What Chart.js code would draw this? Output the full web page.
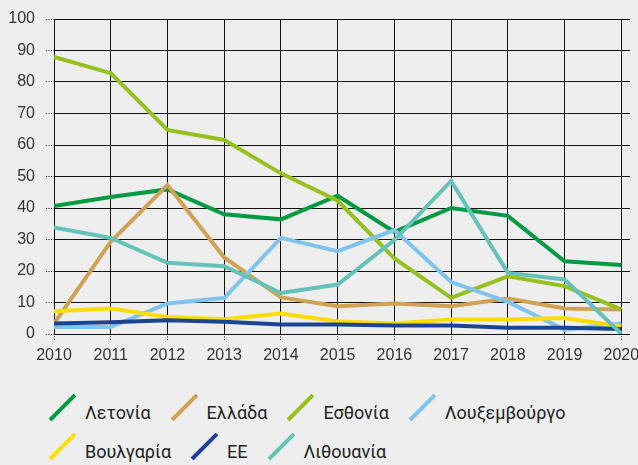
<!DOCTYPE html>
<html>
<head>
<meta charset="utf-8">
<script src="https://cdn.jsdelivr.net/npm/chart.js@4/dist/chart.umd.min.js"></script>
<style>
  html, body { margin: 0; padding: 0; background: #eeeeee; }
  #wrap { position: relative; width: 638px; height: 465px; }
  #box { position: absolute; left: 0; top: 0; width: 638px; height: 370px; }
  #legend { position: absolute; left: 47px; top: 394px; width: 590px;
            font-family: Roboto, "Liberation Sans", sans-serif; font-size: 18px; color: #222; }
  .row { display: flex; height: 39px; align-items: flex-start; }
  .item { display: flex; align-items: flex-end; margin-right: 18px; }
  .item svg { margin-right: 9px; display: block; }
  .item span { line-height: 18px; }
</style>
</head>
<body>
<div id="wrap">
  <div id="box"><canvas id="linechart"></canvas></div>
  <div id="legend"></div>
</div>
<script>
var years = [2010, 2011, 2012, 2013, 2014, 2015, 2016, 2017, 2018, 2019, 2020];
var yTicks = [0, 10, 20, 30, 40, 50, 60, 70, 80, 90, 100];

var seriesNames = ['Λετονία', 'Ελλάδα', 'Εσθονία', 'Λουξεμβούργο', 'Βουλγαρία', 'ΕΕ', 'Λιθουανία'];
var seriesColors = ['#009a44', '#cfa255', '#95c11f', '#7fc4ec', '#ffdd00', '#1c4494', '#66c2b9'];

var latvia     = [40.6, 43.5, 45.9, 38.0, 36.4, 43.9, 32.4, 40.0, 37.5, 23.1, 21.9];
var greece     = [3.3, 29.3, 47.3, 24.3, 11.6, 8.8, 9.7, 8.8, 11.3, 8.1, 7.8];
var estonia    = [88.0, 82.8, 64.8, 61.6, 51.0, 42.3, 24.0, 11.5, 18.3, 15.2, 7.8];
var luxembourg = [2.2, 2.2, 9.7, 11.4, 30.5, 26.3, 33.0, 16.5, 10.2, 1.4, 3.3];
var bulgaria   = [7.2, 8.1, 5.4, 4.7, 6.5, 4.0, 3.3, 4.6, 4.6, 5.1, 2.4];
var eu         = [3.3, 3.7, 4.4, 3.9, 3.0, 3.0, 2.7, 2.7, 2.0, 2.0, 1.6];
var lithuania  = [33.8, 30.5, 22.6, 21.5, 13.0, 15.7, 29.8, 48.6, 19.4, 17.3, 0.1];

var seriesValues = [latvia, greece, estonia, luxembourg, bulgaria, eu, lithuania];

function initLineChart() {
    var ctx = document.getElementById('linechart').getContext('2d');

    var datasets = seriesValues.map(function (vals, i) {
        return {
            label: seriesNames[i],
            data: vals.map(function (v, j) { return { x: years[j], y: v }; }),
            borderColor: seriesColors[i],
            backgroundColor: seriesColors[i],
            borderWidth: 4,
            pointRadius: 0,
            tension: 0,
            order: seriesValues.length - i   // later series drawn on top
        };
    });

    var gridStyle = {
        color: '#111',
        lineWidth: 1,
        borderDash: [1, 1.5],
        tickBorderDash: [1, 1.5]
    };

    new Chart(ctx, {
        type: 'line',
        data: { datasets: datasets },
        options: {
            responsive: true,
            maintainAspectRatio: false,
            animation: false,
            layout: { padding: { top: 19, right: 8, left: 0, bottom: 0 } },
            plugins: { legend: { display: false }, tooltip: { enabled: false } },
            scales: {
                x: {
                    type: 'linear',
                    min: years[0],
                    max: 2020.153,
                    border: { display: false },
                    grid: Object.assign({ tickLength: 6 }, gridStyle),
                    ticks: {
                        stepSize: 1,
                        includeBounds: false,
                        padding: 6,
                        maxRotation: 0,
                        color: '#333',
                        font: { family: 'Liberation Sans', size: 16 },
                        callback: function (v) { return String(v); }
                    },
                    afterFit: function (s) {
                        s.height = 36;
                        s.paddingLeft = 0; s.paddingRight = 0;
                    }
                },
                y: {
                    min: 0,
                    max: 100,
                    border: { display: false },
                    grid: Object.assign({ tickLength: 8 }, gridStyle),
                    afterBuildTicks: function (s) {
                        s.ticks = yTicks.map(function (v) { return { value: v }; });
                    },
                    ticks: {
                        padding: 11,
                        color: '#333',
                        font: { family: 'Liberation Sans', size: 16 }
                    },
                    afterFit: function (s) {
                        s.width = 54;
                        s.paddingTop = 0; s.paddingBottom = 0;
                    }
                }
            }
        }
    });

    // legend in two rows, as in the source figure
    var rows = [[0, 1, 2, 3], [4, 5, 6]];
    var legend = document.getElementById('legend');
    rows.forEach(function (r) {
        var row = document.createElement('div');
        row.className = 'row';
        r.forEach(function (i) {
            var it = document.createElement('div');
            it.className = 'item';
            it.innerHTML = '<svg width="29" height="28"><line x1="3" y1="26" x2="28" y2="1" stroke="' +
                seriesColors[i] + '" stroke-width="4"/></svg><span>' + seriesNames[i] + '</span>';
            row.appendChild(it);
        });
        legend.appendChild(row);
    });
}

document.addEventListener('DOMContentLoaded', initLineChart);
</script>
</body>
</html>
